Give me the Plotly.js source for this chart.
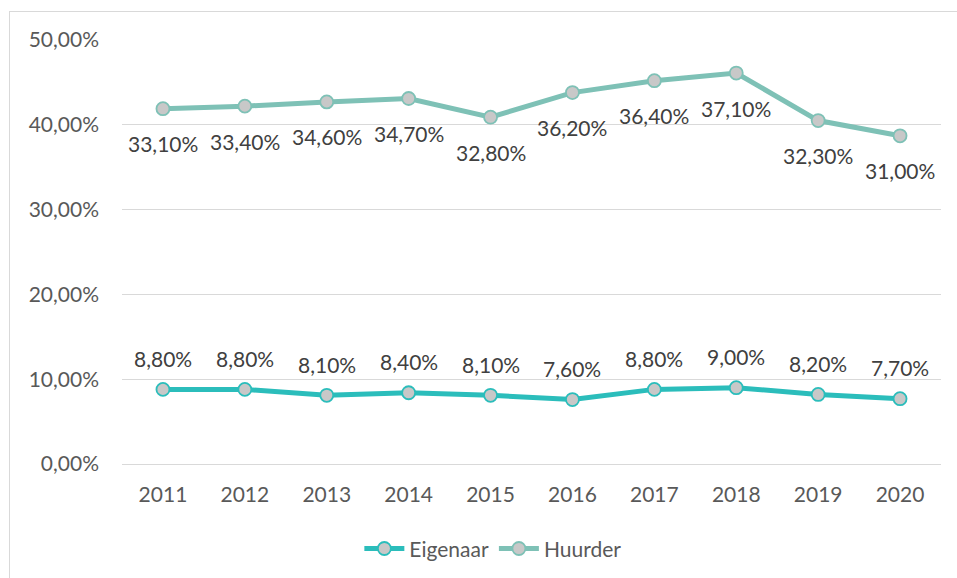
<!DOCTYPE html>
<html>
<head>
<meta charset="utf-8">
<script src="https://cdn.plot.ly/plotly-3.0.1.min.js"></script>
<style>
  html, body { margin: 0; padding: 0; background: #fff; }
  #wrap { position: relative; width: 957px; height: 578px; }
  #chart { position: absolute; left: 0; top: 0; width: 957px; height: 578px; }
  #frame { position: absolute; left: 9px; top: 11px; width: 947px; height: 567px;
           border-top: 1px solid #d9d9d9; border-left: 1px solid #d9d9d9; pointer-events: none; }
</style>
</head>
<body>
<div id="wrap"><div id="chart"></div><div id="frame"></div></div>
<script>
const years = ['2011','2012','2013','2014','2015','2016','2017','2018','2019','2020'];
const eigenaar = [8.8, 8.8, 8.1, 8.4, 8.1, 7.6, 8.8, 9.0, 8.2, 7.7];
const huurder  = [33.1, 33.4, 34.6, 34.7, 32.8, 36.2, 36.4, 37.1, 32.3, 31.0];
const yTicks = [0, 10, 20, 30, 40, 50];
const yTickText = ['0,00%', '10,00%', '20,00%', '30,00%', '40,00%', '50,00%'];

const fmt = v => v.toFixed(2).replace('.', ',') + '%';
// stacked line chart: Huurder is drawn on top of Eigenaar
const huurderStacked = huurder.map((v, i) => v + eigenaar[i]);

const FONT = 'Lato, "Open Sans", sans-serif';
const FS = 21;
const cE = '#2BBDBB', cH = '#7EC1B6', mFill = '#C8C8C8';

const traces = [
  { x: years, y: eigenaar, name: 'Eigenaar', type: 'scatter', mode: 'lines+markers',
    line: { color: cE, width: 5 },
    marker: { size: 13, color: mFill, line: { color: cE, width: 1.8 } },
    hoverinfo: 'skip' },
  { x: years, y: huurderStacked, name: 'Huurder', type: 'scatter', mode: 'lines+markers',
    line: { color: cH, width: 5 },
    marker: { size: 13, color: mFill, line: { color: cH, width: 1.8 } },
    hoverinfo: 'skip' }
];

const annotations = [];
years.forEach((yr, i) => {
  annotations.push({ xref: 'x', yref: 'y', x: i, y: eigenaar[i], text: fmt(eigenaar[i]), showarrow: false,
    yshift: 31, font: { family: FONT, size: FS, color: '#404040' } });
  annotations.push({ xref: 'x', yref: 'y', x: i, y: huurderStacked[i], text: fmt(huurder[i]), showarrow: false,
    yshift: -35, font: { family: FONT, size: FS, color: '#404040' } });
});

const layout = {
  width: 957, height: 578,
  margin: { l: 122, r: 16, t: 40, b: 114 },
  paper_bgcolor: 'rgba(0,0,0,0)', plot_bgcolor: '#fff',
  font: { family: FONT, size: FS, color: '#595959' },
  showlegend: true,
  legend: { orientation: 'h', xref: 'container', yref: 'container', x: 0.515, xanchor: 'center',
            y: 0.015, yanchor: 'bottom', font: { family: FONT, size: FS, color: '#595959' },
            itemwidth: 40, traceorder: 'normal' },
  xaxis: { type: 'category', range: [-0.5, 9.5], showgrid: false, zeroline: false,
           showline: false, ticks: '', ticklabelstandoff: 16, fixedrange: true,
           tickfont: { family: FONT, size: FS, color: '#595959' } },
  yaxis: { range: [0, 50], tickvals: yTicks, ticktext: yTickText, showgrid: true,
           gridcolor: '#D9D9D9', gridwidth: 1, zeroline: true, zerolinecolor: '#D9D9D9',
           zerolinewidth: 1, showline: false, ticks: '', ticklabelstandoff: 22, fixedrange: true,
           tickfont: { family: FONT, size: FS, color: '#595959' } },
  annotations: annotations
};

Plotly.newPlot('chart', traces, layout, { displayModeBar: false, staticPlot: true });
</script>
</body>
</html>
